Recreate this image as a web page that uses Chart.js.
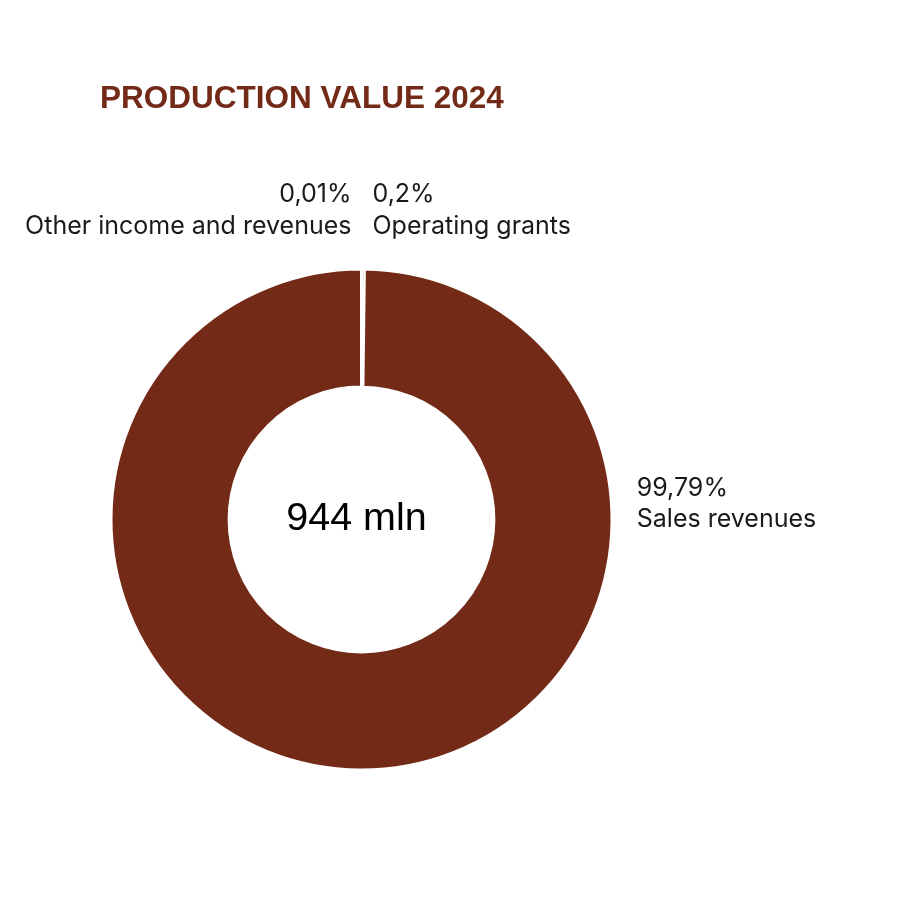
<!DOCTYPE html>
<html>
<head>
<meta charset="utf-8">
<script src="https://cdn.jsdelivr.net/npm/chart.js@4.4.1/dist/chart.umd.min.js"></script>
<style>
  html, body { margin: 0; padding: 0; background: #ffffff; }
  #wrap { width: 903px; height: 900px; }
</style>
</head>
<body>
<div id="wrap"><canvas id="pieChart" width="903" height="900"></canvas></div>
<script>
// Chart data
const categories = ['Operating grants', 'Sales revenues', 'Other income and revenues'];
const shares = [0.2, 99.79, 0.01];
const shareLabels = ['0,2%', '99,79%', '0,01%'];
const totalLabel = '944 mln';
const chartTitle = 'PRODUCTION VALUE 2024';

const brown = '#732a17';

// Draws title, slice labels and the centre total
const labelPlugin = {
    id: 'sliceLabels',
    afterDraw(chart) {
        const ctx = chart.ctx;
        const arc = chart.getDatasetMeta(0).data[0];
        const cx = arc.x, cy = arc.y, r = arc.outerRadius;

        ctx.save();
        ctx.textBaseline = 'middle';

        // title
        ctx.fillStyle = brown;
        ctx.font = 'bold 31.5px "Liberation Sans", Arial, sans-serif';
        ctx.textAlign = 'left';
        ctx.fillText(chartTitle, 100, 99);

        // centre total
        ctx.fillStyle = '#000000';
        ctx.font = '39.5px "Liberation Sans", Arial, sans-serif';
        ctx.textAlign = 'center';
        ctx.fillText(totalLabel, cx - 5, cy);

        ctx.fillStyle = '#1a1a1a';
        ctx.font = '25px Inter, "Noto Sans", sans-serif';

        // small slices at the top
        ctx.textAlign = 'left';
        ctx.fillText(shareLabels[0], cx + 11, cy - r - 75);
        ctx.fillText(categories[0], cx + 11, cy - r - 43);

        ctx.textAlign = 'right';
        ctx.fillText(shareLabels[2], cx - 10, cy - r - 75);
        ctx.fillText(categories[2], cx - 10, cy - r - 43);

        // large slice on the right
        ctx.textAlign = 'left';
        ctx.fillText(shareLabels[1], cx + r + 25, cy - 31);
        ctx.fillText(categories[1], cx + r + 25, cy);

        ctx.restore();
    }
};

const pieCtx = document.getElementById('pieChart').getContext('2d');
new Chart(pieCtx, {
    type: 'doughnut',
    data: {
        labels: categories,
        datasets: [{
            data: shares,
            backgroundColor: [brown, brown, brown],
            borderColor: '#ffffff',
            borderWidth: 2.5
        }]
    },
    options: {
        responsive: false,
        animation: false,
        cutout: '53%',
        layout: {
            padding: { left: 110, right: 290, top: 267, bottom: 128 }
        },
        plugins: {
            legend: { display: false },
            tooltip: { enabled: false }
        }
    },
    plugins: [labelPlugin]
});
</script>
</body>
</html>
